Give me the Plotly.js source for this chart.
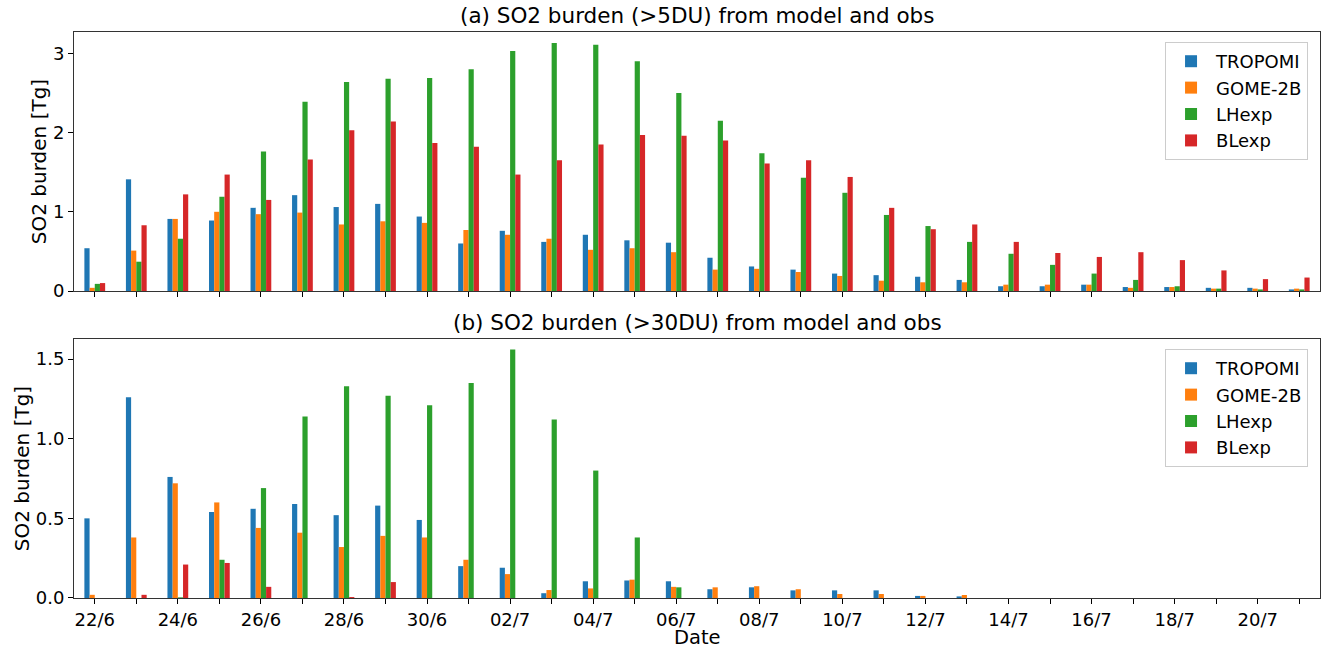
<!DOCTYPE html>
<html>
<head>
<meta charset="utf-8">
<script src="https://cdn.plot.ly/plotly-3.0.1.min.js"></script>
<style>html,body{margin:0;padding:0;background:#fff;}#chart{width:1325px;height:650px;}</style>
</head>
<body>
<div id="chart"></div>
<script>
const dates = ["22/6","23/6","24/6","25/6","26/6","27/6","28/6","29/6","30/6","01/7","02/7","03/7","04/7","05/7","06/7","07/7","08/7","09/7","10/7","11/7","12/7","13/7","14/7","15/7","16/7","17/7","18/7","19/7","20/7","21/7"];
const tickLabels = ["22/6","","24/6","","26/6","","28/6","","30/6","","02/7","","04/7","","06/7","","08/7","","10/7","","12/7","","14/7","","16/7","","18/7","","20/7",""];
const seriesNames = ["TROPOMI","GOME-2B","LHexp","BLexp"];
const seriesColors = ["#1f77b4","#ff7f0e","#2ca02c","#d62728"];

// (a) SO2 burden (>5DU)
const tropomi5 = [0.54,1.41,0.91,0.89,1.05,1.21,1.06,1.10,0.94,0.60,0.76,0.62,0.71,0.64,0.61,0.42,0.31,0.27,0.22,0.20,0.18,0.14,0.06,0.06,0.08,0.05,0.05,0.04,0.04,0.02];
const gome5    = [0.04,0.51,0.91,1.00,0.97,0.99,0.84,0.88,0.86,0.77,0.71,0.66,0.52,0.54,0.49,0.27,0.28,0.24,0.19,0.13,0.11,0.11,0.08,0.08,0.08,0.04,0.05,0.03,0.03,0.03];
const lhexp5   = [0.09,0.37,0.66,1.19,1.76,2.39,2.64,2.68,2.69,2.80,3.03,3.13,3.11,2.90,2.50,2.15,1.74,1.43,1.24,0.96,0.82,0.62,0.47,0.33,0.22,0.14,0.06,0.03,0.02,0.02];
const blexp5   = [0.10,0.83,1.22,1.47,1.15,1.66,2.03,2.14,1.87,1.82,1.47,1.65,1.85,1.97,1.96,1.90,1.61,1.65,1.44,1.05,0.78,0.84,0.62,0.48,0.43,0.49,0.39,0.26,0.15,0.17];

// (b) SO2 burden (>30DU)
const tropomi30 = [0.50,1.26,0.76,0.54,0.56,0.59,0.52,0.58,0.49,0.20,0.19,0.03,0.105,0.11,0.105,0.055,0.067,0.048,0.048,0.048,0.013,0.01,0,0,0,0,0,0,0,0];
const gome30    = [0.02,0.38,0.72,0.60,0.44,0.41,0.32,0.39,0.38,0.24,0.15,0.05,0.06,0.115,0.07,0.067,0.074,0.055,0.025,0.025,0.013,0.019,0,0,0,0,0,0,0,0];
const lhexp30   = [0,0,0.004,0.24,0.69,1.14,1.33,1.27,1.21,1.35,1.56,1.12,0.80,0.38,0.067,0,0,0,0,0,0,0,0,0,0,0,0,0,0,0];
const blexp30   = [0,0.02,0.21,0.22,0.07,0,0.006,0.10,0,0,0,0,0,0,0,0,0,0,0,0,0,0,0,0,0,0,0,0,0,0];

const panelA = [tropomi5, gome5, lhexp5, blexp5];
const panelB = [tropomi30, gome30, lhexp30, blexp30];

const traces = [];
panelA.forEach((vals, i) => traces.push({
  type: 'bar', x: dates, y: vals, name: seriesNames[i],
  marker: {color: seriesColors[i], line: {width: 0}},
  xaxis: 'x', yaxis: 'y', legend: 'legend', hoverinfo: 'x+y+name'
}));
panelB.forEach((vals, i) => traces.push({
  type: 'bar', x: dates, y: vals, name: seriesNames[i],
  marker: {color: seriesColors[i], line: {width: 0}},
  xaxis: 'x2', yaxis: 'y2', legend: 'legend2', hoverinfo: 'x+y+name'
}));

const FAM = 'DejaVu Sans, sans-serif';
const tickFont = {family: FAM, size: 18, color: '#000'};
const labelFont = {family: FAM, size: 20, color: '#000'};
const titleFont = {family: FAM, size: 21.5, color: '#000'};
const axisCommon = {
  showline: true, mirror: true, linecolor: '#333', linewidth: 1,
  ticks: 'outside', ticklen: 5, tickwidth: 1, tickcolor: '#000',
  showgrid: false, zeroline: false, tickfont: tickFont
};
const legendCommon = {
  xanchor: 'right', yanchor: 'top', x: 0.9904,
  bgcolor: '#fff', bordercolor: '#cccccc', borderwidth: 1,
  font: {family: FAM, size: 18, color: '#000'},
  itemwidth: 40, tracegroupgap: 0
};

const layout = {
  width: 1325, height: 650,
  margin: {l: 74, r: 5, t: 32, b: 52},
  paper_bgcolor: '#fff', plot_bgcolor: '#fff',
  font: tickFont,
  barmode: 'group', bargap: 0.5, bargroupgap: 0,
  showlegend: true,
  xaxis: Object.assign({}, axisCommon, {
    anchor: 'y', domain: [0, 1], type: 'category',
    range: [-0.5, 29.5], tickmode: 'array', tickvals: dates, ticktext: tickLabels,
    showticklabels: false
  }),
  yaxis: Object.assign({}, axisCommon, {
    anchor: 'x', domain: [0.5424, 1], range: [0, 3.27],
    tickmode: 'array', tickvals: [0, 1, 2, 3], ticktext: ['0', '1', '2', '3'],
    title: {text: 'SO2 burden [Tg]', font: labelFont, standoff: 0}
  }),
  xaxis2: Object.assign({}, axisCommon, {
    anchor: 'y2', domain: [0, 1], type: 'category',
    range: [-0.5, 29.5], tickmode: 'array', tickvals: dates, ticktext: tickLabels
  }),
  yaxis2: Object.assign({}, axisCommon, {
    anchor: 'x2', domain: [0, 0.4576], range: [0, 1.626],
    tickmode: 'array', tickvals: [0, 0.5, 1, 1.5], ticktext: ['0.0', '0.5', '1.0', '1.5'],
    title: {text: 'SO2 burden [Tg]', font: labelFont, standoff: 0}
  }),
  legend: Object.assign({}, legendCommon, {y: 0.9823}),
  legend2: Object.assign({}, legendCommon, {y: 0.4399}),
  annotations: [
    {text: '(a) SO2 burden (>5DU) from model and obs', xref: 'paper', yref: 'paper',
     x: 0.5, y: 1, yshift: 2, xanchor: 'center', yanchor: 'bottom', showarrow: false, font: titleFont},
    {text: '(b) SO2 burden (>30DU) from model and obs', xref: 'paper', yref: 'paper',
     x: 0.5, y: 0.4576, yshift: 2, xanchor: 'center', yanchor: 'bottom', showarrow: false, font: titleFont},
    {text: 'Date', xref: 'paper', yref: 'paper', borderpad: 0,
     x: 0.5, y: 0, yshift: -52, xanchor: 'center', yanchor: 'bottom', showarrow: false,
     font: {family: FAM, size: 19.5, color: '#000'}}
  ]
};

Plotly.newPlot('chart', traces, layout, {displayModeBar: false, staticPlot: true});
</script>
</body>
</html>
